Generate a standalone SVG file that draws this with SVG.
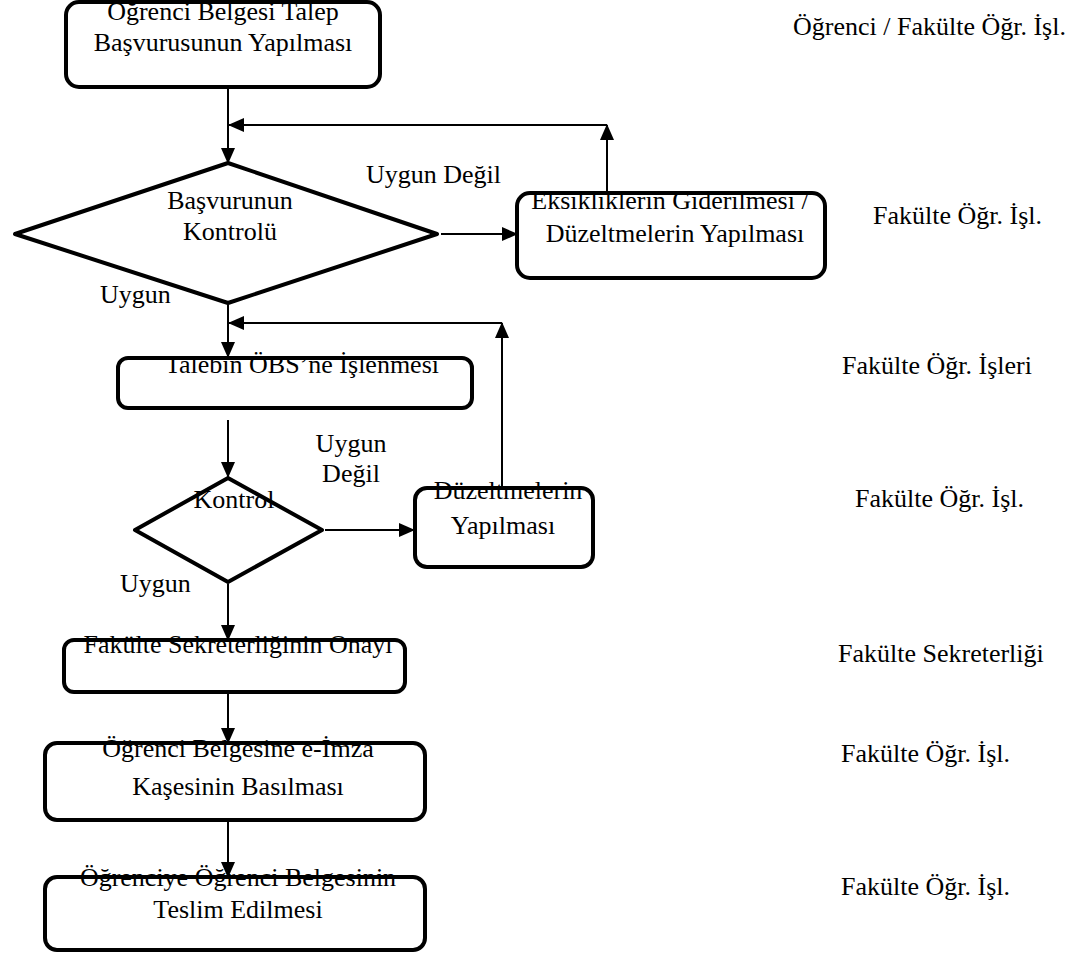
<svg xmlns="http://www.w3.org/2000/svg" width="1088" height="955" viewBox="0 0 1088 955">
<style>
text{font-family:"Liberation Serif","Times New Roman",serif;font-size:26px;fill:#000}
.c{text-anchor:middle}
.box{fill:none;stroke:#000;stroke-width:4}
.con{fill:none;stroke:#000;stroke-width:2}
</style>
<defs>
<marker id="ah" markerUnits="userSpaceOnUse" markerWidth="16" markerHeight="14" refX="15" refY="7" orient="auto">
<path d="M0,0 L16,7 L0,14 Z" fill="#000"/>
</marker>
</defs>
<rect width="1088" height="955" fill="#fff"/>

<g id="n1">
<text class="c" x="223" y="20">Öğrenci Belgesi Talep</text>
<text class="c" x="223" y="51">Başvurusunun Yapılması</text>
<rect class="box" x="66" y="2" width="314" height="85" rx="13"/>
</g>
<g id="n2">
<polygon class="box" points="228,163 437,234 228,303 15,234" stroke-linejoin="round"/>
<text class="c" x="230" y="209">Başvurunun</text>
<text class="c" x="230" y="240">Kontrolü</text>
</g>
<g id="n3">
<text class="c" x="670" y="209">Eksikliklerin Giderilmesi /</text>
<text class="c" x="675" y="242">Düzeltmelerin Yapılması</text>
<rect class="box" x="517" y="193" width="308" height="85" rx="13"/>
</g>
<g id="n4">
<text class="c" x="302" y="373">Talebin ÖBS’ne İşlenmesi</text>
<rect class="box" x="118" y="358" width="354" height="50" rx="10"/>
</g>
<g id="n5">
<polygon class="box" points="228,478 322,530 228,582 135,530" stroke-linejoin="round"/>
<text class="c" x="234" y="508">Kontrol</text>
</g>
<g id="n6">
<text class="c" x="508" y="499">Düzeltmelerin</text>
<text class="c" x="503" y="534">Yapılması</text>
<rect class="box" x="415" y="488" width="178" height="79" rx="12"/>
</g>
<g id="n7">
<text class="c" x="238" y="653">Fakülte Sekreterliğinin Onayı</text>
<rect class="box" x="64" y="640" width="341" height="52" rx="10"/>
</g>
<g id="n8">
<text class="c" x="238" y="757">Öğrenci Belgesine e-İmza</text>
<text class="c" x="238" y="795">Kaşesinin Basılması</text>
<rect class="box" x="45" y="743" width="380" height="77" rx="12"/>
</g>
<g id="n9">
<text class="c" x="238" y="886">Öğrenciye Öğrenci Belgesinin</text>
<text class="c" x="238" y="918">Teslim Edilmesi</text>
<rect class="box" x="45" y="877" width="380" height="73" rx="12"/>
</g>

<g id="connectors">
<line class="con" x1="228" y1="89" x2="228" y2="163" marker-end="url(#ah)"/>
<line class="con" x1="607" y1="192" x2="607" y2="125" marker-end="url(#ah)"/>
<line class="con" x1="607" y1="125" x2="229" y2="125" marker-end="url(#ah)"/>
<line class="con" x1="441" y1="234" x2="517" y2="234" marker-end="url(#ah)"/>
<line class="con" x1="228" y1="305" x2="228" y2="357" marker-end="url(#ah)"/>
<line class="con" x1="502" y1="487" x2="502" y2="323" marker-end="url(#ah)"/>
<line class="con" x1="502" y1="323" x2="229" y2="323" marker-end="url(#ah)"/>
<line class="con" x1="228" y1="420" x2="228" y2="477" marker-end="url(#ah)"/>
<line class="con" x1="325" y1="530" x2="414" y2="530" marker-end="url(#ah)"/>
<line class="con" x1="228" y1="584" x2="228" y2="640" marker-end="url(#ah)"/>
<line class="con" x1="228" y1="694" x2="228" y2="743" marker-end="url(#ah)"/>
<line class="con" x1="228" y1="822" x2="228" y2="877" marker-end="url(#ah)"/>
</g>

<g id="labels">
<text x="366" y="183">Uygun Değil</text>
<text x="100" y="303">Uygun</text>
<text class="c" x="351" y="452">Uygun</text>
<text class="c" x="351" y="482">Değil</text>
<text x="120" y="592">Uygun</text>
</g>

<g id="lanes">
<text x="793" y="35">Öğrenci / Fakülte Öğr. İşl.</text>
<text x="873" y="224">Fakülte Öğr. İşl.</text>
<text x="842" y="374">Fakülte Öğr. İşleri</text>
<text x="855" y="507">Fakülte Öğr. İşl.</text>
<text x="838" y="662">Fakülte Sekreterliği</text>
<text x="841" y="762">Fakülte Öğr. İşl.</text>
<text x="841" y="895">Fakülte Öğr. İşl.</text>
</g>
</svg>
